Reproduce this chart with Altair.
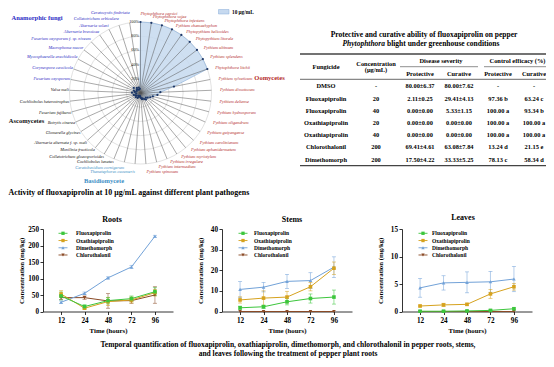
import math
import altair as alt
import pandas as pd

FONT = "Liberation Serif"
W, H = 538, 351

# ===================== DATA =====================
# --- radar: activity of fluoxapiprolin at 10 ug/mL ---
pathogens = [
    "Phytophthora capsici", "Phytophthora sojae", "Phytophthora infestans", "Pythium chamaehyphon",
    "Phytopythium helicoides", "Phytopythium litorale", "Pythium ultimum", "Pythium splendens",
    "Phytophthora litchii", "Pythium sylvaticum", "Pythium dissotocum", "Pythium deliense",
    "Pythium hydnosporum", "Pythium oligandrum", "Pythium guiyangense", "Pythium carolinianum",
    "Pythium aphanidermatum", "Pythium myriotylum", "Pythium irregulare", "Pythium intermedium",
    "Pythium spinosum",
    "Thanatephorus cucumeris", "Ceratobasidium cornigerum",
    "Cochliobolus lunatus", "Colletotrichum gloeosporioides", "Monilinia fructicola",
    "Alternaria alternata f. sp. mali", "Glomerella glycines", "Botrytis cinerea",
    "Fusarium fujikuroi", "Cochliobolus heterostrophus", "Valsa mali",
    "Fusarium oxysporum", "Corynespora cassiicola", "Mycosphaerella arachidicola",
    "Macrophoma mucor", "Fusarium oxysporum f. sp. niveum", "Alternaria brassicae",
    "Alternaria solani", "Colletotrichum orbiculare", "Ceratocystis fimbriata",
]
pathogen_groups = (["Oomycetes"] * 21 + ["Basidiomycete"] * 2 +
                   ["Ascomycetes"] * 9 + ["Anamorphic fungi"] * 9)
inhibition_10 = [100, 100, 100, 100, 100, 100, 100, 100, 100, 48, 28, 24, 18, 15, 12, 10,
                 12, 10, 8, 9, 7,
                 5, 4,
                 6, 8, 5, 9, 7, 8, 10, 6, 12,
                 8, 10, 6, 12, 7, 9, 5, 8, 6]
ring_levels = [20, 40, 60, 80, 100]
ring_labels = ["20%", "40%", "60%", "80%", "100%"]
group_names = ["Anamorphic fungi", "Oomycetes", "Ascomycetes", "Basidiomycete"]
group_colors = ["#2b2bc4", "#b42a2a", "#111111", "#3d8fc6"]
radar_legend_label = "10 μg/mL"
radar_caption = "Activity of fluoxapiprolin at 10 μg/mL against different plant pathogens"

# --- table ---
table_title_1 = "Protective and curative ability of fluoxapiprolin on pepper"
table_title_2a = "Phytophthora"
table_title_2b = "blight under greenhouse conditions"
header_top = ["Fungicide", "Concentration", "(μg/mL)", "Disease severity", "Control efficacy (%)"]
header_sub = ["Protective", "Curative", "Protective", "Curative"]
fungicides = ["DMSO", "Fluoxapiprolin", "Fluoxapiprolin", "Oxathiapiprolin",
              "Oxathiapiprolin", "Chlorothalonil", "Dimethomorph"]
concentrations = ["-", "20", "40", "20", "40", "200", "200"]
ds_protective = ["80.00±6.37", "2.11±0.25", "0.00±0.00", "0.00±0.00", "0.00±0.00",
                 "69.41±4.61", "17.50±4.22"]
ds_curative = ["80.00±7.62", "29.41±4.13", "5.33±1.15", "0.00±0.00", "0.00±0.00",
               "63.08±7.84", "33.33±5.25"]
ce_protective = ["-", "97.36 b", "100.00 a", "100.00 a", "100.00 a", "13.24 d", "78.13 c"]
ce_curative = ["-", "63.24 c", "93.34 b", "100.00 a", "100.00 a", "21.15 e", "58.34 d"]

# --- residue time courses ---
hours = ["12", "24", "48", "72", "96"]
compounds = ["Fluoxapiprolin", "Oxathiapiprolin", "Dimethomorph", "Chlorothalonil"]
compound_colors = ["#3cc63c", "#d6a21e", "#72a2d8", "#8a4a26"]
compound_shapes = ["square", "square", "triangle-up", "triangle-down"]

roots_mean = [[47, 15, 33, 39, 60], [53, 10, 30, 35, 57], [28, 55, 102, 135, 228], [42, 42, 32, 33, 50]]
roots_err = [[12, 5, 10, 8, 12], [10, 4, 12, 9, 10], [4, 4, 3, 5, 3], [6, 5, 22, 8, 25]]
stems_mean = [[1.8, 2.3, 4.7, 6.3, 7.0], [5.6, 6.5, 7.0, 12.0, 21.0],
              [10.7, 11.8, 14.6, 15.0, 21.5], [0, 0, 0, 0, 0]]
stems_err = [[0.8, 0.8, 1.5, 2.2, 3.4], [1.5, 3.5, 2.8, 2.0, 3.0],
             [3.8, 2.3, 3.4, 3.8, 5.0], [0, 0, 0, 0, 0]]
leaves_mean = [[0.05, 0.05, 0.1, 0.2, 0.5], [1.0, 1.2, 1.3, 3.2, 4.5],
               [4.3, 5.2, 5.3, 5.4, 5.9], [0, 0, 0, 0, 0]]
leaves_err = [[0.05, 0.05, 0.1, 0.1, 0.15], [0.15, 0.3, 0.2, 0.8, 0.6],
              [1.7, 1.3, 1.9, 1.9, 2.3], [0, 0, 0, 0, 0]]
panel_names = ["Roots", "Stems", "Leaves"]
panel_ticks = [[0, 50, 100, 150, 200, 250], [0, 10, 20, 30, 40], [0, 5, 10, 15]]

caption_1 = ("Temporal quantification of fluoxapiprolin, oxathiapiprolin, dimethomorph, "
             "and chlorothalonil in pepper roots, stems,")
caption_2 = "and leaves following the treatment of pepper plant roots"

# ===================== LAYOUT (chart pixels) =====================
CX, CY, R = 132.5, 85.0, 71.0
LAB_RX_R, LAB_RX_L, LAB_RY = 79.5, 71.7, 74.5     # label ellipse radii, px
# extra vertical stacking (px) for the crowded labels near the top and bottom
LAB_NUDGE = {0: 4.5, 1: 2.7, 2: 1.0, 19: 1.2, 20: 4.7, 21: 5.0, 22: 2.8, 39: 3.2, 40: 6.5}
GROUP_POS = {"Anamorphic fungi": (29, 10), "Oomycetes": (261.5, 70.3),
             "Ascomycetes": (18.5, 112.7), "Basidiomycete": (96, 173)}
TABLE_L, TABLE_R = 292, 538
COL_X = [318, 368, 412, 451, 490, 526]
ROW_Y0, ROW_Y1 = 78.3, 151.7
Y0, YT = 303.5, 221.0
PW, PPAD = 130, 0.77
PANEL_AX = [35, 214, 394]
PANEL_TITLE = [(104, 211.5), (284, 211.5), (455, 210)]
LEG_SX = [55, 235, 415]
LEG_LX = [68, 246, 424]
LEG_Y0, LEG_STEP = 225.3, 7.23

IDX = alt.Scale(domain=[0, W], range=[0, W], nice=False, zero=False)
IDY = alt.Scale(domain=[0, H], range=[0, H], nice=False, zero=False)


def ann(df, **mk):
    return alt.Chart(df).mark_text(font=FONT, **mk).encode(
        x=alt.X("x:Q", scale=IDX, axis=None),
        y=alt.Y("y:Q", scale=IDY, axis=None),
        text="t:N")


layers = []

# ===================== RADAR =====================
RX = alt.Scale(domain=[-100, 100], range=[CX - R, CX + R], nice=False, zero=False)
RY = alt.Scale(domain=[-100, 100], range=[CY + R, CY - R], nice=False, zero=False)
N = len(pathogens)
th = [2 * math.pi * i / N for i in range(N)]
px2pct = 100.0 / R
rad = pd.DataFrame({
    "name": pathogens, "group": pathogen_groups, "v": inhibition_10, "i": list(range(N)),
    "px": [v * math.sin(t) for v, t in zip(inhibition_10, th)],
    "py": [v * math.cos(t) for v, t in zip(inhibition_10, th)],
    "sx": [100 * math.sin(t) for t in th],
    "sy": [100 * math.cos(t) for t in th],
    "lx": [(LAB_RX_R if i <= 20 else LAB_RX_L) * px2pct * math.sin(t) for i, t in enumerate(th)],
    "ly": [(LAB_RY + LAB_NUDGE.get(i, 0.0)) * px2pct * math.cos(t) for i, t in enumerate(th)],
    "zero": [0.0] * N,
})
rad["side"] = ["L" if i <= 20 else "R" for i in range(N)]
rings = pd.DataFrame({"level": ring_levels, "lab": ring_labels, "zero": [0.0] * len(ring_levels)})

layers.append(alt.Chart(rings).mark_point(shape="circle", filled=False, color="#cfcfcf",
                                          strokeWidth=0.6, opacity=1).encode(
    x=alt.X("zero:Q", scale=RX, axis=None), y=alt.Y("zero:Q", scale=RY, axis=None),
    size=alt.Size("level:Q", scale=alt.Scale(type="pow", exponent=2, domain=[0, 100],
                                             range=[0, (2 * R) ** 2]), legend=None)))
layers.append(alt.Chart(rad).mark_line(interpolate="linear-closed", fill="#c6d9ef",
                                       fillOpacity=0.85, stroke="#86acd8", strokeWidth=0.6).encode(
    x=alt.X("px:Q", scale=RX, axis=None), y=alt.Y("py:Q", scale=RY, axis=None),
    order=alt.Order("i:Q")))
layers.append(alt.Chart(rad).mark_rule(color="#555555", strokeWidth=0.5).encode(
    x=alt.X("zero:Q", scale=RX, axis=None), y=alt.Y("zero:Q", scale=RY, axis=None),
    x2="sx:Q", y2="sy:Q"))
layers.append(alt.Chart(rad).mark_circle(size=5, color="#1d3767", opacity=1).encode(
    x=alt.X("px:Q", scale=RX, axis=None), y=alt.Y("py:Q", scale=RY, axis=None)))
layers.append(alt.Chart(rings).mark_text(font=FONT, fontSize=4.2, align="right", dx=-1.5,
                                         baseline="middle", color="#222222").encode(
    x=alt.X("zero:Q", scale=RX, axis=None), y=alt.Y("level:Q", scale=RY, axis=None),
    text="lab:N"))
gscale = alt.Scale(domain=group_names, range=group_colors)
for side, al in (("L", "left"), ("R", "right")):
    layers.append(alt.Chart(rad[rad.side == side]).mark_text(
        font=FONT, fontSize=4.3, fontStyle="italic", align=al, baseline="middle").encode(
        x=alt.X("lx:Q", scale=RX, axis=None), y=alt.Y("ly:Q", scale=RY, axis=None),
        text="name:N", color=alt.Color("group:N", scale=gscale, legend=None)))
gdf = pd.DataFrame({"t": group_names,
                    "x": [GROUP_POS[g][0] for g in group_names],
                    "y": [GROUP_POS[g][1] for g in group_names]})
layers.append(alt.Chart(gdf).mark_text(font=FONT, fontSize=6.5, fontWeight="bold",
                                       baseline="middle").encode(
    x=alt.X("x:Q", scale=IDX, axis=None), y=alt.Y("y:Q", scale=IDY, axis=None),
    text="t:N", color=alt.Color("t:N", scale=gscale, legend=None)))
# legend swatch
layers.append(alt.Chart(pd.DataFrame({"t": [radar_legend_label]})).mark_rect(
    fill="#c6d9ef", stroke="#86acd8", strokeWidth=0.5).encode(
    x=alt.value(210.5), x2=alt.value(221), y=alt.value(1.5), y2=alt.value(6)))
layers.append(ann(pd.DataFrame({"t": [radar_legend_label], "x": [224], "y": [4]}),
                  fontSize=5.3, fontWeight="bold", align="left", baseline="middle"))
layers.append(ann(pd.DataFrame({"t": [radar_caption], "x": [0.5], "y": [185.3]}),
                  fontSize=7.9, fontWeight="bold", align="left", baseline="middle"))

# ===================== TABLE =====================
layers.append(ann(pd.DataFrame({"t": [table_title_1], "x": [416], "y": [27]}),
                  fontSize=7.5, fontWeight="bold", align="center", baseline="middle"))
layers.append(ann(pd.DataFrame({"t": [table_title_2a], "x": [377], "y": [36]}),
                  fontSize=7.5, fontWeight="bold", fontStyle="italic", align="right",
                  baseline="middle"))
layers.append(ann(pd.DataFrame({"t": [table_title_2b], "x": [379], "y": [36]}),
                  fontSize=7.5, fontWeight="bold", align="left", baseline="middle"))
rules = pd.DataFrame({
    "x": [TABLE_L, 392, 476, TABLE_L, TABLE_L],
    "x2": [TABLE_R, 470, TABLE_R, TABLE_R, TABLE_R],
    "y": [46, 58.7, 58.7, 71.3, 157.7],
    "w": [1.3, 0.6, 0.6, 0.8, 1.2],
})
layers.append(alt.Chart(rules).mark_rule(color="#444444").encode(
    x=alt.X("x:Q", scale=IDX, axis=None), x2="x2:Q",
    y=alt.Y("y:Q", scale=IDY, axis=None),
    strokeWidth=alt.StrokeWidth("w:Q", scale=None)))
hdr = pd.DataFrame({
    "t": header_top + header_sub,
    "x": [COL_X[0], COL_X[1], COL_X[1], 433, 509.5] + COL_X[2:],
    "y": [59, 56, 61.5, 53, 53, 66.3, 66.3, 66.3, 66.3],
})
layers.append(ann(hdr, fontSize=6.4, fontWeight="bold", align="center", baseline="middle"))
cells = []
for r in range(len(fungicides)):
    vals = [fungicides[r], concentrations[r], ds_protective[r], ds_curative[r],
            ce_protective[r], ce_curative[r]]
    for c, v in enumerate(vals):
        cells.append({"t": v, "x": COL_X[c], "row": r})
cells = pd.DataFrame(cells)
layers.append(alt.Chart(cells).mark_text(font=FONT, fontSize=6.4, fontWeight="bold",
                                         align="center", baseline="middle").encode(
    x=alt.X("x:Q", scale=IDX, axis=None),
    y=alt.Y("row:Q", scale=alt.Scale(domain=[0, len(fungicides) - 1], range=[ROW_Y0, ROW_Y1],
                                     nice=False, zero=False), axis=None),
    text="t:N"))

# ===================== LINE PANELS =====================
cscale = alt.Scale(domain=compounds, range=compound_colors)
sscale = alt.Scale(domain=compounds, range=compound_shapes)
draw_order = [3, 2, 1, 0]
for p, (means, errs) in enumerate([(roots_mean, roots_err), (stems_mean, stems_err),
                                   (leaves_mean, leaves_err)]):
    ax = PANEL_AX[p]
    ticks = panel_ticks[p]
    xs = alt.Scale(type="point", domain=hours, range=[ax, ax + PW], padding=PPAD)
    ys = alt.Scale(domain=[ticks[0], ticks[-1]], range=[Y0, YT], nice=False, zero=False)
    rows = []
    for ci in draw_order:
        for hi, h in enumerate(hours):
            m, e = means[ci][hi], errs[ci][hi]
            rows.append({"compound": compounds[ci], "hour": h, "m": m,
                         "lo": m - e, "hi": m + e, "e": e})
    df = pd.DataFrame(rows)
    edf = df[df.e > 0]
    caps = pd.concat([edf.assign(v=edf.lo), edf.assign(v=edf.hi)])
    col = alt.Color("compound:N", scale=cscale, legend=None)
    layers.append(alt.Chart(edf).mark_rule(strokeWidth=0.7, opacity=0.75).encode(
        x=alt.X("hour:O", scale=xs, axis=None), y=alt.Y("lo:Q", scale=ys, axis=None),
        y2="hi:Q", color=col))
    layers.append(alt.Chart(caps).mark_tick(size=4, thickness=0.7, opacity=0.75).encode(
        x=alt.X("hour:O", scale=xs, axis=None), y=alt.Y("v:Q", scale=ys, axis=None),
        color=col))
    yaxis = alt.Axis(orient="left", offset=-ax, values=ticks, title="Concentration (mg/kg)",
                     titleX=-22, titleBaseline="middle", titleFont=FONT, titleFontSize=6.8,
                     titleFontWeight="bold", titleColor="black", labelFont=FONT,
                     labelFontSize=7.2, labelFontWeight="bold", labelColor="black",
                     labelPadding=1.5, tickSize=3, tickColor="black", tickWidth=0.8,
                     domainColor="black", domainWidth=0.8, grid=False)
    xaxis = alt.Axis(orient="bottom", offset=Y0 - H, title="Time (hours)", titleY=19,
                     titleBaseline="middle", titleFont=FONT, titleFontSize=6.8,
                     titleFontWeight="bold", titleColor="black", labelFont=FONT,
                     labelFontSize=7.2, labelFontWeight="bold", labelColor="black",
                     labelAngle=0, labelPadding=2, tickSize=3, tickColor="black",
                     tickWidth=0.8, domainColor="black", domainWidth=0.8, grid=False)
    layers.append(alt.Chart(df).mark_line(strokeWidth=1).encode(
        x=alt.X("hour:O", scale=xs, axis=xaxis), y=alt.Y("m:Q", scale=ys, axis=yaxis),
        color=col))
    layers.append(alt.Chart(df).mark_point(filled=True, size=13, opacity=1).encode(
        x=alt.X("hour:O", scale=xs, axis=None), y=alt.Y("m:Q", scale=ys, axis=None),
        color=col, shape=alt.Shape("compound:N", scale=sscale, legend=None)))
    # legend
    leg = pd.DataFrame({"compound": compounds, "row": list(range(len(compounds)))})
    ly = alt.Scale(domain=[0, 3], range=[LEG_Y0, LEG_Y0 + 3 * LEG_STEP], nice=False, zero=False)
    sx = LEG_SX[p]
    layers.append(alt.Chart(leg).mark_rule(strokeWidth=0.9).encode(
        x=alt.value(sx - 4.5), x2=alt.value(sx + 4.5),
        y=alt.Y("row:Q", scale=ly, axis=None), color=col))
    layers.append(alt.Chart(leg).mark_point(filled=True, size=11, opacity=1).encode(
        x=alt.value(sx), y=alt.Y("row:Q", scale=ly, axis=None), color=col,
        shape=alt.Shape("compound:N", scale=sscale, legend=None)))
    layers.append(alt.Chart(leg).mark_text(font=FONT, fontSize=5.5, fontWeight="bold",
                                           align="left", baseline="middle").encode(
        x=alt.value(LEG_LX[p]), y=alt.Y("row:Q", scale=ly, axis=None), text="compound:N"))
    tx, ty = PANEL_TITLE[p]
    layers.append(ann(pd.DataFrame({"t": [panel_names[p]], "x": [tx], "y": [ty]}),
                      fontSize=8, fontWeight="bold", align="center", baseline="middle"))

layers.append(ann(pd.DataFrame({"t": [caption_1, caption_2], "x": [280, 280], "y": [336.5, 345.5]}),
                  fontSize=7.5, fontWeight="bold", align="center", baseline="middle"))

chart = alt.layer(*layers).properties(
    width=W, height=H, padding=0, background="white",
    autosize=alt.AutoSizeParams(type="none"),
).resolve_scale(
    x="independent", y="independent", color="independent", shape="independent",
    size="independent", strokeWidth="independent",
).configure_view(stroke=None)

chart.save("out.html", embed_options={"renderer": "svg", "actions": False})
